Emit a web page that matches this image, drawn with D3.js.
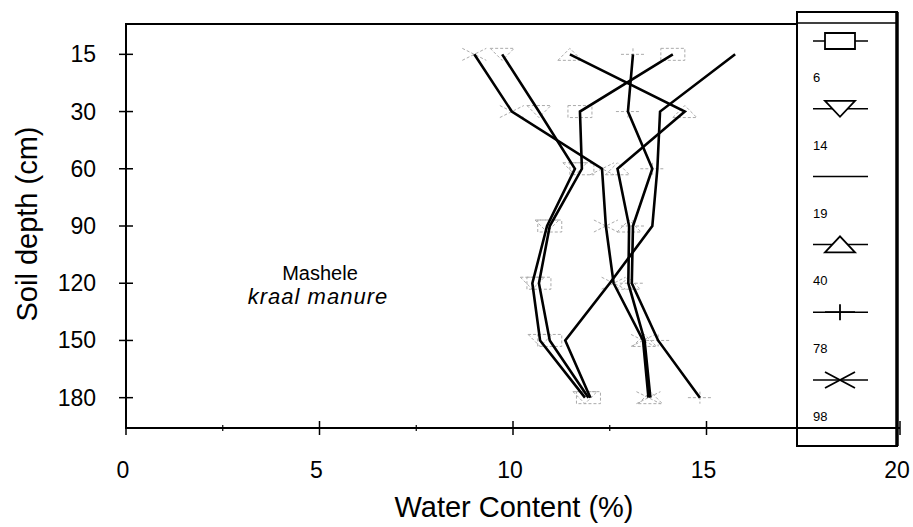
<!DOCTYPE html>
<html lang="en">
  <head>
    <meta charset="utf-8" />
    <title>Soil water content profile</title>
    <script src="https://cdn.jsdelivr.net/npm/d3@7"></script>
    <style type="text/css">
      body { margin: 0; background: #fff; }
      text { font-family: "Liberation Sans", Arial, sans-serif; }
    </style>
  </head>
  <body>
    <script type="text/javascript">
      //Width and height
      var w = 913;
      var h = 527;

      // depths (cm) and x ticks
      var depths = [15, 30, 60, 90, 120, 150, 180];
      var xTicks = [0, 5, 10, 15, 20];
      var xMinor = [2.5, 7.5, 12.5, 17.5];

      // series: legend names, markers, water content (%) per depth
      var names = ["6", "14", "19", "40", "78", "98"];
      var markers = ["square", "triDown", "none", "triUp", "plus", "cross"];
      var s6 = [14.13, 11.73, 11.78, 10.95, 10.67, 10.95, 11.95];
      var s14 = [9.72, 10.67, 11.6, 10.88, 10.5, 10.7, 11.86];
      var s19 = [15.74, 13.8, 13.73, 13.6, 12.5, 11.35, 12.0];
      var s40 = [11.47, 14.44, 12.7, 13.0, 12.98, 13.4, 13.55];
      var s78 = [13.1, 12.97, 13.6, 13.1, 13.07, 13.75, 14.83];
      var s98 = [9.0, 9.97, 12.3, 12.4, 12.6, 13.36, 13.5];
      var values = [s6, s14, s19, s40, s78, s98];

      var pLeft = 126, pRight = 900, pTop = 24, pBottom = 428;

      var xScale = d3.scaleLinear().domain([0, 20]).range([pLeft, pRight]);
      var yScale = d3.scalePoint().domain(depths).range([pTop, pBottom]).padding(0.53);

      var svg = d3.select("body").append("svg")
        .attr("width", w)
        .attr("height", h);

      // frame (left, top, bottom)
      svg.append("path")
        .attr("d", "M" + (pRight - 103) + "," + pTop + "H" + pLeft + "V" + pBottom + "H" + pRight)
        .attr("fill", "none")
        .attr("stroke", "#000")
        .attr("stroke-width", 2);

      // x ticks
      svg.selectAll(".xt").data(xTicks).enter().append("line")
        .attr("x1", d => xScale(d)).attr("x2", d => xScale(d))
        .attr("y1", pBottom - 7).attr("y2", pBottom + 7)
        .attr("stroke", "#000").attr("stroke-width", 1.5);
      svg.selectAll(".xm").data(xMinor).enter().append("line")
        .attr("x1", d => xScale(d)).attr("x2", d => xScale(d))
        .attr("y1", pBottom - 3).attr("y2", pBottom + 3)
        .attr("stroke", "#000").attr("stroke-width", 1.2);
      svg.selectAll(".xl").data(xTicks).enter().append("text")
        .attr("x", d => xScale(d) - 3)
        .attr("y", 478)
        .attr("text-anchor", "middle")
        .attr("font-size", "23px")
        .text(d => d);

      // y ticks
      svg.selectAll(".yt").data(depths).enter().append("line")
        .attr("x1", pLeft - 7).attr("x2", pLeft + 7)
        .attr("y1", d => yScale(d)).attr("y2", d => yScale(d))
        .attr("stroke", "#000").attr("stroke-width", 1.5);
      svg.selectAll(".yl").data(depths).enter().append("text")
        .attr("x", 96)
        .attr("y", d => yScale(d) + 8)
        .attr("text-anchor", "end")
        .attr("font-size", "23px")
        .text(d => d);

      // axis titles
      svg.append("text")
        .attr("x", 514).attr("y", 517)
        .attr("text-anchor", "middle")
        .attr("font-size", "29px")
        .text("Water Content (%)");
      svg.append("text")
        .attr("transform", "translate(37," + 224 + ") rotate(-90)")
        .attr("text-anchor", "middle")
        .attr("font-size", "29px")
        .text("Soil depth (cm)");

      // annotation
      svg.append("text")
        .attr("x", 320).attr("y", 280)
        .attr("text-anchor", "middle")
        .attr("font-size", "20px")
        .text("Mashele");
      svg.append("text")
        .attr("x", 318).attr("y", 304)
        .attr("text-anchor", "middle")
        .attr("font-size", "22px")
        .attr("letter-spacing", "1px")
        .attr("font-style", "italic")
        .text("kraal manure");

      // marker shapes
      function markerPath(type, sw, sh) {
        var hw = sw / 2, hh = sh / 2;
        if (type === "square") return "M" + -hw + "," + -hh + "H" + hw + "V" + hh + "H" + -hw + "Z";
        if (type === "triDown") return "M" + -hw + "," + -hh + "H" + hw + "L0," + hh + "Z";
        if (type === "triUp") return "M" + -hw + "," + hh + "H" + hw + "L0," + -hh + "Z";
        if (type === "plus") return "M" + -hw + ",0H" + hw + "M0," + -hh + "V" + hh;
        if (type === "cross") return "M" + -hw + "," + -hh + "L" + hw + "," + hh + "M" + -hw + "," + hh + "L" + hw + "," + -hh;
        return "";
      }

      // faint markers in plot
      values.forEach(function (vals, si) {
        svg.selectAll(".m" + si).data(vals).enter().append("path")
          .attr("transform", (d, i) => "translate(" + xScale(d) + "," + yScale(depths[i]) + ")")
          .attr("d", markerPath(markers[si], 24, 12))
          .attr("fill", "none")
          .attr("stroke", "#aaa")
          .attr("stroke-width", 1)
          .attr("stroke-dasharray", "3,2");
      });

      // lines
      var line = d3.line()
        .x(d => xScale(d[0]))
        .y(d => yScale(d[1]));
      svg.selectAll(".series").data(values).enter().append("path")
        .attr("d", vals => line(vals.map((v, i) => [v, depths[i]])))
        .attr("fill", "none")
        .attr("stroke", "#000")
        .attr("stroke-width", 2.6)
        .attr("stroke-linejoin", "miter");

      // legend box
      var lx = 797, ly = 12, lw = 100, lh = 434;
      svg.append("rect")
        .attr("x", lx).attr("y", ly)
        .attr("width", lw).attr("height", lh)
        .attr("fill", "#fff")
        .attr("stroke", "#000")
        .attr("stroke-width", 2);
      svg.append("line")
        .attr("x1", lx + lw).attr("x2", lx + lw)
        .attr("y1", ly).attr("y2", ly + lh)
        .attr("stroke", "#000").attr("stroke-width", 3.5);
      svg.append("line")
        .attr("x1", lx).attr("x2", lx + lw)
        .attr("y1", pTop - 1).attr("y2", pTop - 1)
        .attr("stroke", "#000").attr("stroke-width", 1.5);
      // x axis continues through legend
      svg.append("line")
        .attr("x1", lx).attr("x2", pRight)
        .attr("y1", pBottom).attr("y2", pBottom)
        .attr("stroke", "#000").attr("stroke-width", 2);

      var legY = d3.scaleLinear().domain([0, 5]).range([41, 380]);
      var leg = svg.selectAll(".leg").data(names).enter().append("g")
        .attr("transform", (d, i) => "translate(840," + legY(i) + ")");
      leg.append("line")
        .attr("x1", -27).attr("x2", 28)
        .attr("stroke", "#000").attr("stroke-width", 1.5);
      leg.append("path")
        .attr("d", (d, i) => markerPath(markers[i], 30, 16))
        .attr("fill", "#fff")
        .attr("fill-opacity", (d, i) => (markers[i] === "plus" || markers[i] === "cross") ? 0 : 1)
        .attr("stroke", "#000")
        .attr("stroke-width", 1.8);
      leg.append("text")
        .attr("x", -27).attr("y", 41)
        .attr("font-size", "13px")
        .text(d => d);
    </script>
  </body>
</html>
